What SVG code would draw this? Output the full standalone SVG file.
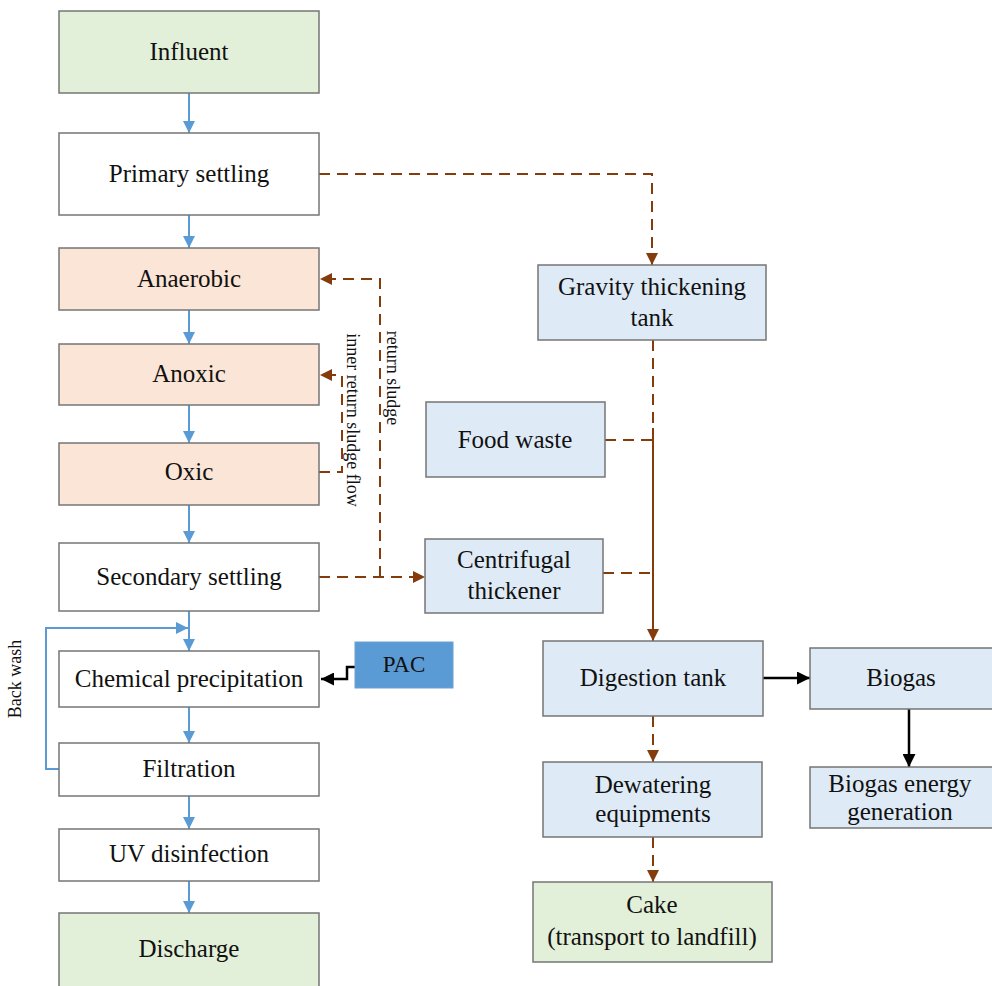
<svg xmlns="http://www.w3.org/2000/svg" width="992" height="986" viewBox="0 0 992 986">
<style>
.box{stroke:#767676;stroke-width:1.5}
.w{fill:#ffffff}.g{fill:#e2efd9}.o{fill:#fbe5d6}.b{fill:#deebf7}
text{font-family:'Liberation Serif','Times New Roman',serif;font-size:25px;fill:#111;text-anchor:middle}
.sm{font-size:18px}
.blue{stroke:#5b9bd5;stroke-width:2;fill:none}
.br{stroke:#843c0c;stroke-width:2;fill:none}
.dash{stroke-dasharray:11,7}
.blk{stroke:#000;stroke-width:2.5;fill:none}
</style>
<defs>
<marker id="ab" viewBox="0 0 10 10" refX="10" refY="5" markerWidth="12" markerHeight="12" markerUnits="userSpaceOnUse" orient="auto"><path d="M0,0L10,5L0,10z" fill="#5b9bd5"/></marker>
<marker id="ar" viewBox="0 0 10 10" refX="10" refY="5" markerWidth="12" markerHeight="12" markerUnits="userSpaceOnUse" orient="auto"><path d="M0,0L10,5L0,10z" fill="#843c0c"/></marker>
<marker id="ak" viewBox="0 0 10 10" refX="10" refY="5" markerWidth="13" markerHeight="13" markerUnits="userSpaceOnUse" orient="auto"><path d="M0,0L10,5L0,10z" fill="#000"/></marker>
</defs>
<g id="connectors">
<line class="blue" x1="189" y1="93" x2="189" y2="133" marker-end="url(#ab)"/>
<line class="blue" x1="189" y1="215" x2="189" y2="248" marker-end="url(#ab)"/>
<line class="blue" x1="189" y1="310" x2="189" y2="344" marker-end="url(#ab)"/>
<line class="blue" x1="189" y1="405" x2="189" y2="443" marker-end="url(#ab)"/>
<line class="blue" x1="189" y1="505" x2="189" y2="543" marker-end="url(#ab)"/>
<line class="blue" x1="189" y1="611" x2="189" y2="651" marker-end="url(#ab)"/>
<line class="blue" x1="189" y1="707" x2="189" y2="743" marker-end="url(#ab)"/>
<line class="blue" x1="189" y1="796" x2="189" y2="829" marker-end="url(#ab)"/>
<line class="blue" x1="189" y1="881" x2="189" y2="913" marker-end="url(#ab)"/>
<polyline class="blue" points="59,769 46,769 46,628 188,628" marker-end="url(#ab)"/>
<polyline class="blk" points="355,667 347,667 347,679 321,679" marker-end="url(#ak)"/>
<polyline class="br dash" points="319,174 652,174 652,265" marker-end="url(#ar)"/>
<polyline class="br dash" points="319,577 425,577" marker-end="url(#ar)"/>
<polyline class="br dash" points="380,577 380,279 320,279" marker-end="url(#ar)"/>
<polyline class="br dash" points="319,472 342,472 342,375 320,375" marker-end="url(#ar)"/>
<line class="br dash" x1="653" y1="340" x2="653" y2="428"/>
<line class="br" x1="653" y1="428" x2="653" y2="641" marker-end="url(#ar)"/>
<line class="br dash" x1="605" y1="440" x2="653" y2="440"/>
<line class="br dash" x1="603" y1="573" x2="653" y2="573"/>
<line class="br dash" x1="653" y1="716" x2="653" y2="762" marker-end="url(#ar)"/>
<line class="br dash" x1="653" y1="837" x2="653" y2="882" marker-end="url(#ar)"/>
<line class="blk" x1="763" y1="678" x2="810" y2="678" marker-end="url(#ak)"/>
<line class="blk" x1="909" y1="709" x2="909" y2="767" marker-end="url(#ak)"/>
<text class="sm" transform="translate(21,679) rotate(-90)">Back wash</text>
<text class="sm" transform="translate(387,378) rotate(90)">return sludge</text>
<text class="sm" transform="translate(347,420) rotate(90)">inner return sludge flow</text>
</g>
<g id="influent"><rect class="box g" x="59" y="11" width="260" height="82"/><text x="189" y="60">Influent</text></g>
<g id="primary"><rect class="box w" x="59" y="133" width="260" height="82"/><text x="189" y="182">Primary settling</text></g>
<g id="anaerobic"><rect class="box o" x="59" y="248" width="260" height="62"/><text x="189" y="287">Anaerobic</text></g>
<g id="anoxic"><rect class="box o" x="59" y="344" width="260" height="61"/><text x="189" y="382">Anoxic</text></g>
<g id="oxic"><rect class="box o" x="59" y="443" width="260" height="62"/><text x="189" y="480">Oxic</text></g>
<g id="secondary"><rect class="box w" x="59" y="543" width="260" height="68"/><text x="189" y="585">Secondary settling</text></g>
<g id="chemical"><rect class="box w" x="59" y="651" width="260" height="56"/><text x="189" y="687">Chemical precipitation</text></g>
<g id="filtration"><rect class="box w" x="59" y="743" width="260" height="53"/><text x="189" y="777">Filtration</text></g>
<g id="uv"><rect class="box w" x="59" y="829" width="260" height="52"/><text x="189" y="862">UV disinfection</text></g>
<g id="discharge"><rect class="box g" x="59" y="913" width="260" height="80"/><text x="189" y="957">Discharge</text></g>
<g id="pac"><rect x="355" y="642" width="98" height="46" fill="#5b9bd5" stroke="#6f9fd0" stroke-width="1"/><text x="404" y="672" style="font-size:23px">PAC</text></g>
<g id="gravity"><rect class="box b" x="538" y="265" width="228" height="75"/><text x="652" y="295">Gravity thickening</text><text x="652" y="326">tank</text></g>
<g id="food"><rect class="box b" x="426" y="402" width="179" height="75"/><text x="515" y="448">Food waste</text></g>
<g id="centrifugal"><rect class="box b" x="425" y="539" width="178" height="74"/><text x="514" y="568">Centrifugal</text><text x="514" y="599">thickener</text></g>
<g id="digestion"><rect class="box b" x="543" y="641" width="220" height="75"/><text x="653" y="686">Digestion tank</text></g>
<g id="biogas"><rect class="box b" x="810" y="648" width="190" height="61"/><text x="901" y="686">Biogas</text></g>
<g id="dewatering"><rect class="box b" x="543" y="762" width="219" height="75"/><text x="653" y="793">Dewatering</text><text x="653" y="822">equipments</text></g>
<g id="energy"><rect class="box b" x="810" y="767" width="190" height="61"/><text x="900" y="792">Biogas energy</text><text x="900" y="820">generation</text></g>
<g id="cake"><rect class="box g" x="533" y="882" width="239" height="80"/><text x="652" y="913">Cake</text><text x="652" y="945">(transport to landfill)</text></g>
</svg>
